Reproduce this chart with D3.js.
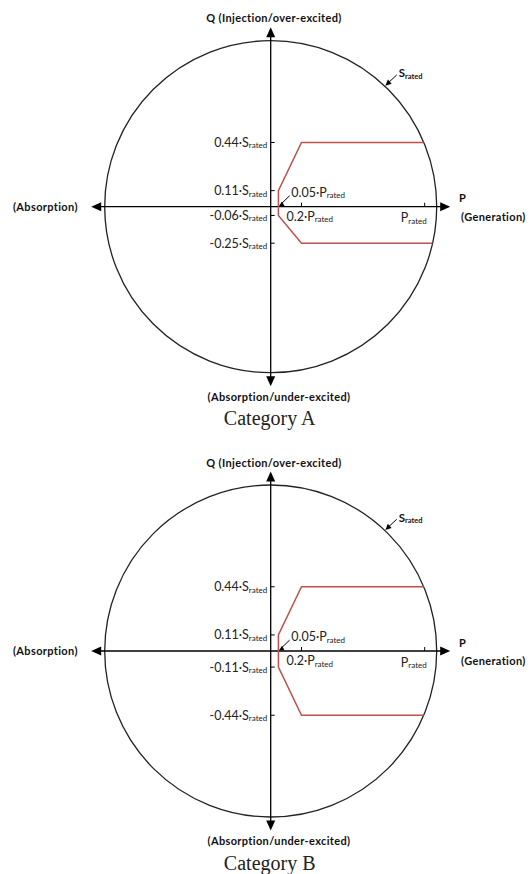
<!DOCTYPE html>
<html>
<head>
<meta charset="utf-8">
<script src="https://cdn.jsdelivr.net/npm/d3@7"></script>
<style>
  html, body { margin: 0; padding: 0; background: #fff; }
  svg { display: block; }
</style>
</head>
<body>
<svg id="chart" width="530" height="874"></svg>
<script>
// ---------------- data ----------------
const categories = ["Category A", "Category B"];
// Q tick values (in units of S_rated) per category
const qTicksA = [0.44, 0.11, -0.06, -0.25];
const qTicksB = [0.44, 0.11, -0.11, -0.44];
// P tick values (in units of P_rated)
const pTicks = [0.2, 1];
const pTickLabels = ["0.2·P", "P"];
const pMinimum = 0.05;          // 0.05·P_rated
// capability boundaries: [P, Q]; P = null => reaches the S_rated circle
const boundaryA = [[null, 0.44], [0.2, 0.44], [0.05, 0.11], [0.05, -0.06], [0.2, -0.25], [null, -0.25]];
const boundaryB = [[null, 0.44], [0.2, 0.44], [0.05, 0.11], [0.05, -0.11], [0.2, -0.44], [null, -0.44]];
const sRated = 1;

const panelData = [
  { title: categories[0], qTicks: qTicksA, boundary: boundaryA },
  { title: categories[1], qTicks: qTicksB, boundary: boundaryB }
];

// ---------------- layout ----------------
const svg = d3.select("#chart");
const cx = 270.7;
const panelCenters = [206.7, 651];
const R = 166;            // S_rated circle radius px
const axisHalf = 179.5;
const red = "#c0504d";
const sansBold = "Lato, 'Open Sans', sans-serif";

function fmt(v) { return (v < 0 ? "-" : "") + Math.abs(v).toFixed(2); }

function arrowHead(g, x, y, dir, len, half) {
  // dir: angle in radians pointing direction of tip
  const bx = x - Math.cos(dir) * len, by = y - Math.sin(dir) * len;
  const nx = -Math.sin(dir) * half, ny = Math.cos(dir) * half;
  g.append("path")
    .attr("d", `M${x},${y}L${bx + nx},${by + ny}L${bx - nx},${by - ny}Z`)
    .attr("fill", "#000");
}

panelData.forEach((pd, i) => {
  const cy = panelCenters[i];
  const g = svg.append("g");

  const sScale = d3.scaleLinear().domain([0, sRated]).range([0, R]);
  const pScale = d3.scaleLinear().domain([0, 1]).range([cx, cx + 154]);
  const qScale = d3.scaleLinear().domain([0, 1]).range([cy, cy - 146]);

  // circle
  g.append("circle")
    .attr("cx", cx).attr("cy", cy).attr("r", sScale(sRated))
    .attr("fill", "none").attr("stroke", "#222").attr("stroke-width", 1.3);

  // axes
  const ax = g.append("g").attr("stroke", "#000").attr("stroke-width", 1.3);
  ax.append("line").attr("x1", cx - axisHalf + 8).attr("x2", cx + axisHalf - 8).attr("y1", cy).attr("y2", cy);
  ax.append("line").attr("y1", cy - axisHalf + 8).attr("y2", cy + axisHalf - 8).attr("x1", cx).attr("x2", cx);
  arrowHead(g, cx + axisHalf, cy, 0, 10, 4.5);
  arrowHead(g, cx - axisHalf, cy, Math.PI, 10, 4.5);
  arrowHead(g, cx, cy - axisHalf, -Math.PI / 2, 10, 4.5);
  arrowHead(g, cx, cy + axisHalf, Math.PI / 2, 10, 4.5);

  // boundary polyline
  const pts = pd.boundary.map(([p, q]) => {
    const y = qScale(q);
    const x = p === null ? cx + Math.sqrt(R * R - (y - cy) * (y - cy)) : pScale(p);
    return [x, y];
  });
  g.append("path")
    .attr("d", d3.line()(pts))
    .attr("fill", "none").attr("stroke", red).attr("stroke-width", 1.5)
    .attr("stroke-linejoin", "miter");

  // Q ticks & labels
  pd.qTicks.forEach(q => {
    const y = qScale(q);
    g.append("line").attr("x1", cx).attr("x2", cx + 4).attr("y1", y).attr("y2", y)
      .attr("stroke", "#000").attr("stroke-width", 1);
    const t = g.append("text").attr("x", cx - 3.5).attr("y", y + 4.5)
      .attr("text-anchor", "end").attr("font-family", "Lato, sans-serif")
      .attr("font-size", 12.5).attr("fill", "#222");
    t.append("tspan").text(fmt(q) + "·S");
    t.append("tspan").attr("font-size", 8).attr("dy", 1.5).text("rated");
  });

  // P ticks
  pTicks.forEach((p, j) => {
    const x = pScale(p);
    g.append("line").attr("x1", x).attr("x2", x).attr("y1", cy).attr("y2", cy - 4)
      .attr("stroke", "#000").attr("stroke-width", 1);
    const t = g.append("text").attr("font-family", "Lato, sans-serif")
      .attr("font-size", 12.5).attr("fill", "#222");
    if (j === 0) t.attr("x", x - 15).attr("y", cy + 14);
    else t.attr("x", x + 2).attr("y", cy + 15.5).attr("text-anchor", "end");
    t.append("tspan").text(pTickLabels[j]);
    t.append("tspan").attr("font-size", 8).attr("dy", 1.5).text("rated");
  });

  // 0.05·P_rated pointer
  const px = pScale(pMinimum);
  const lbl = g.append("text").attr("x", cx + 20.5).attr("y", cy - 10)
    .attr("font-family", "Lato, sans-serif").attr("font-size", 12.5).attr("fill", "#222");
  lbl.append("tspan").text(pMinimum.toFixed(2) + "·P");
  lbl.append("tspan").attr("font-size", 8).attr("dy", 1.5).text("rated");
  g.append("line").attr("x1", cx + 19).attr("y1", cy - 11).attr("x2", px + 3).attr("y2", cy - 3)
    .attr("stroke", "#000").attr("stroke-width", 1);
  arrowHead(g, px + 0.5, cy - 0.5, Math.atan2(10.5, -18.5), 5, 2.5);

  // S_rated pointer
  const ang = Math.atan2(85 - 206.7, 386 - 270.7);
  const tipX = cx + R * Math.cos(ang), tipY = cy + R * Math.sin(ang);
  g.append("line").attr("x1", cx + 126).attr("y1", cy - 131.7).attr("x2", tipX + 3).attr("y2", tipY - 3)
    .attr("stroke", "#000").attr("stroke-width", 1);
  arrowHead(g, tipX + 0.5, tipY - 0.5, Math.atan2(10, -10.7), 6, 2.8);
  const st = g.append("text").attr("x", cx + 128).attr("y", cy - 129.5)
    .attr("font-family", sansBold).attr("font-weight", "bold").attr("font-size", 11.5).attr("fill", "#111");
  st.append("tspan").text("S");
  st.append("tspan").attr("font-size", 7.5).attr("dy", 1.5).text("rated");

  // axis titles
  const bold = (sel) => sel.attr("font-family", sansBold).attr("font-weight", "bold")
    .attr("font-size", 11).attr("fill", "#111").attr("letter-spacing", 0.35);
  bold(g.append("text").attr("x", 274).attr("y", cy - 184.5).attr("text-anchor", "middle"))
    .text("Q (Injection/over-excited)");
  bold(g.append("text").attr("x", 279).attr("y", cy + 194).attr("text-anchor", "middle"))
    .text("(Absorption/under-excited)");
  bold(g.append("text").attr("x", 13).attr("y", cy + 4))
    .text("(Absorption)");
  bold(g.append("text").attr("x", 459).attr("y", cy - 4.5)).text("P");
  bold(g.append("text").attr("x", 461).attr("y", cy + 14)).text("(Generation)");

  // category title
  g.append("text").attr("x", 269.7).attr("y", cy + 218.5).attr("text-anchor", "middle")
    .attr("font-family", "'Liberation Serif', 'Times New Roman', serif").attr("font-size", 20)
    .attr("fill", "#222").text(pd.title);
});
</script>
</body>
</html>
